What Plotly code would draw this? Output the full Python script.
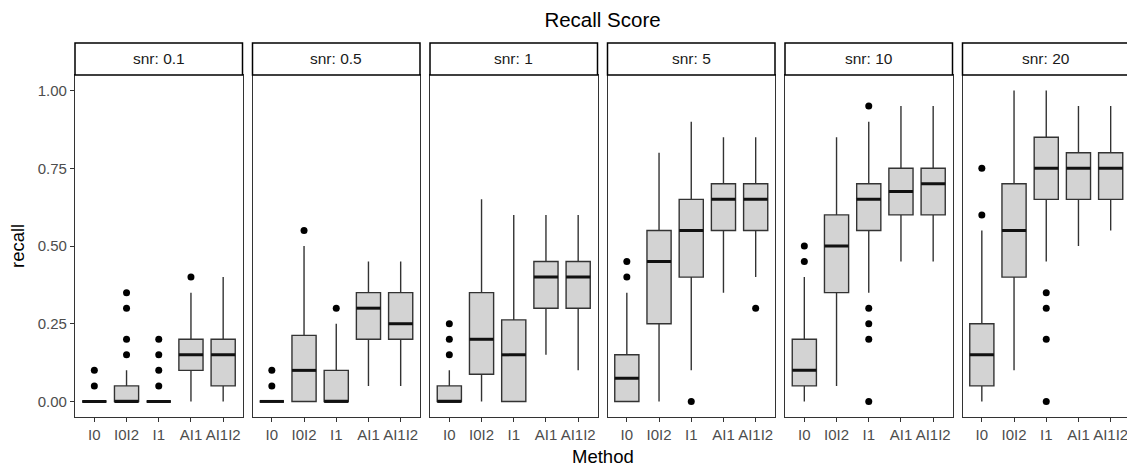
import plotly.graph_objects as go

methods = ["I0", "I0I2", "I1", "AI1", "AI1I2"]
snr_labels = ["snr: 0.1", "snr: 0.5", "snr: 1", "snr: 5", "snr: 10", "snr: 20"]

# rows = snr panels, columns = methods
q1_vals = [
    [0.00, 0.00, 0.00, 0.10, 0.05],
    [0.00, 0.00, 0.00, 0.20, 0.20],
    [0.00, 0.0875, 0.00, 0.30, 0.30],
    [0.00, 0.25, 0.40, 0.55, 0.55],
    [0.05, 0.35, 0.55, 0.60, 0.60],
    [0.05, 0.40, 0.65, 0.65, 0.65],
]
median_vals = [
    [0.00, 0.00, 0.00, 0.15, 0.15],
    [0.00, 0.10, 0.00, 0.30, 0.25],
    [0.00, 0.20, 0.15, 0.40, 0.40],
    [0.075, 0.45, 0.55, 0.65, 0.65],
    [0.10, 0.50, 0.65, 0.675, 0.70],
    [0.15, 0.55, 0.75, 0.75, 0.75],
]
q3_vals = [
    [0.00, 0.05, 0.00, 0.20, 0.20],
    [0.00, 0.2125, 0.10, 0.35, 0.35],
    [0.05, 0.35, 0.2625, 0.45, 0.45],
    [0.15, 0.55, 0.65, 0.70, 0.70],
    [0.20, 0.60, 0.70, 0.75, 0.75],
    [0.25, 0.70, 0.85, 0.80, 0.80],
]
lower_vals = [
    [0.00, 0.00, 0.00, 0.00, 0.00],
    [0.00, 0.00, 0.00, 0.05, 0.05],
    [0.00, 0.00, 0.00, 0.15, 0.10],
    [0.00, 0.00, 0.10, 0.35, 0.40],
    [0.00, 0.05, 0.35, 0.45, 0.45],
    [0.00, 0.10, 0.45, 0.50, 0.55],
]
upper_vals = [
    [0.00, 0.10, 0.00, 0.35, 0.40],
    [0.00, 0.50, 0.25, 0.45, 0.45],
    [0.10, 0.65, 0.60, 0.60, 0.60],
    [0.35, 0.80, 0.90, 0.85, 0.85],
    [0.40, 0.85, 0.90, 0.95, 0.95],
    [0.55, 1.00, 1.00, 0.95, 0.95],
]
outlier_vals = [
    [[0.05, 0.10], [0.15, 0.20, 0.30, 0.35], [0.05, 0.10, 0.15, 0.20], [0.40], []],
    [[0.05, 0.10], [0.55], [0.30], [], []],
    [[0.15, 0.20, 0.25], [], [], [], []],
    [[0.40, 0.45], [], [0.00], [], [0.30]],
    [[0.45, 0.50], [], [0.95, 0.30, 0.25, 0.20, 0.00], [], []],
    [[0.60, 0.75], [], [0.35, 0.30, 0.20, 0.00], [], []],
]
y_ticks = [0.0, 0.25, 0.5, 0.75, 1.0]
y_ticklabels = ["0.00", "0.25", "0.50", "0.75", "1.00"]

FONT = "Liberation Sans, Arial, sans-serif"
PAGE_OFF = 8  # default body margin of the html page
W, H = 1135 - PAGE_OFF, 466 - PAGE_OFF
ML, MR, MT, MB = 75 - PAGE_OFF, 5, 43 - PAGE_OFF, 49
plot_w = W - ML - MR
plot_h = H - MT - MB
panel_w = 167.5
gap = 10.0
strip_h = 32
y_dom_top = (plot_h - strip_h) / plot_h
box_w = 0.75
TICK_SIZE = 15
STRIP_SIZE = 15.5

fig = go.Figure()
n = len(snr_labels)
for i in range(n):
    ax = "" if i == 0 else str(i + 1)
    xref = "x" + ax
    yref = "y" + ax
    xs = list(range(len(methods)))
    for j in range(len(methods)):
        fig.add_trace(go.Box(
            x=[xs[j]], q1=[q1_vals[i][j]], median=[median_vals[i][j]], q3=[q3_vals[i][j]],
            lowerfence=[lower_vals[i][j]], upperfence=[upper_vals[i][j]],
            width=box_w, whiskerwidth=0, boxpoints=False,
            fillcolor="#D3D3D3", line=dict(color="#333333", width=1.4),
            xaxis=xref, yaxis=yref, showlegend=False, hoverinfo="skip",
        ))
    # thicker median lines
    mx, my = [], []
    for j in range(len(methods)):
        mx += [xs[j] - box_w / 2, xs[j] + box_w / 2, None]
        my += [median_vals[i][j], median_vals[i][j], None]
    fig.add_trace(go.Scatter(x=mx, y=my, mode="lines", line=dict(color="#111111", width=3),
                             xaxis=xref, yaxis=yref, showlegend=False, hoverinfo="skip"))
    # outliers
    ox, oy = [], []
    for j in range(len(methods)):
        for v in outlier_vals[i][j]:
            ox.append(xs[j])
            oy.append(v)
    fig.add_trace(go.Scatter(x=ox, y=oy, mode="markers", marker=dict(color="black", size=7),
                             xaxis=xref, yaxis=yref, showlegend=False, hoverinfo="skip"))

    x0 = i * (panel_w + gap) / plot_w
    x1 = (i * (panel_w + gap) + panel_w) / plot_w
    fig.layout["xaxis" + ax] = dict(
        domain=[x0, x1], range=[-0.6, len(methods) - 0.4], anchor=yref, automargin=False,
        tickvals=xs, ticktext=methods, ticks="outside", ticklen=4, tickcolor="#333333",
        tickwidth=1, showgrid=False, zeroline=False, showline=True, mirror=True,
        linecolor="#333333", linewidth=1.2,
        tickfont=dict(family=FONT, size=TICK_SIZE, color="#4D4D4D"),
    )
    fig.layout["yaxis" + ax] = dict(
        domain=[0, y_dom_top], range=[-0.05, 1.05], anchor=xref, automargin=False,
        tickvals=y_ticks, ticktext=y_ticklabels,
        ticks="outside" if i == 0 else "", ticklen=4, tickcolor="#333333", tickwidth=1,
        showticklabels=(i == 0), showgrid=False, zeroline=False, showline=True, mirror=True,
        linecolor="#333333", linewidth=1.2,
        tickfont=dict(family=FONT, size=TICK_SIZE, color="#4D4D4D"),
    )
    # strip
    fig.add_shape(type="rect", xref="paper", yref="paper", x0=x0, x1=x1, y0=y_dom_top, y1=1,
                  fillcolor="white", line=dict(color="black", width=1.5), layer="above")
    fig.add_annotation(x=(x0 + x1) / 2, y=(y_dom_top + 1) / 2, xref="paper", yref="paper",
                       xanchor="center", yanchor="middle",
                       text=snr_labels[i], showarrow=False,
                       font=dict(family=FONT, size=STRIP_SIZE, color="#1A1A1A"))

fig.add_annotation(x=(18 - 75) / plot_w, y=(466 - MB - 246) / plot_h,
                   xref="paper", yref="paper", xanchor="center", yanchor="middle",
                   text="recall", textangle=-90, showarrow=False,
                   font=dict(family=FONT, size=18.5, color="black"))
fig.add_annotation(x=0.5, y=-(456 - (466 - MB)) / plot_h, xref="paper", yref="paper",
                   xanchor="center", yanchor="middle",
                   text="Method", showarrow=False, font=dict(family=FONT, size=18.5, color="black"))

fig.update_layout(
    width=W, height=H, margin=dict(l=ML, r=MR, t=MT, b=MB, autoexpand=False),
    paper_bgcolor="white", plot_bgcolor="white",
    title=dict(text="Recall Score", x=(ML + plot_w / 2) / W, xanchor="center",
               y=1 - (20 - PAGE_OFF) / H, yanchor="middle",
               font=dict(family=FONT, size=20.5, color="black")),
)
fig.write_html("out.html")
